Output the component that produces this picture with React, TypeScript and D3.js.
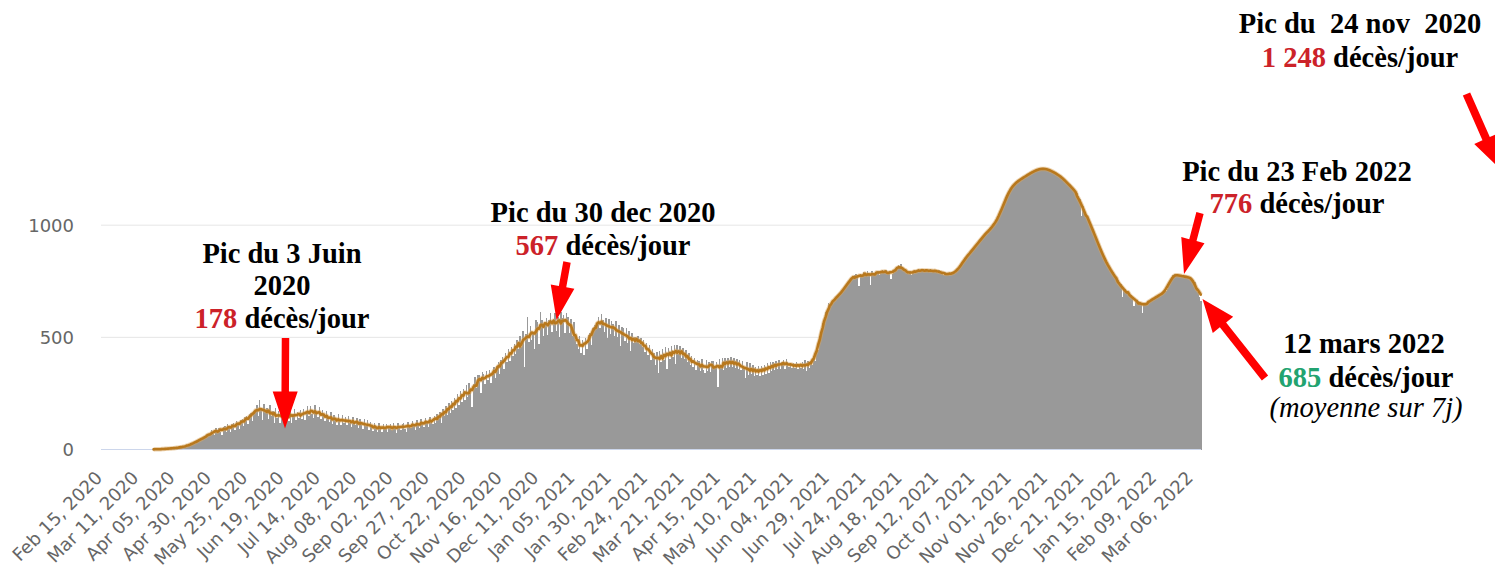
import React from 'react';
import * as d3 from 'd3';

const W = 1495;
const H = 571;

// Daily deaths (bars), month by month. Data begins 22 Mar 2020.
const mar2020 = [0, 1, 1, 0, 2, 1, 2, 3, 2, 4];
const apr2020 = [3, 5, 4, 6, 5, 7, 8, 7, 10, 9, 12, 14, 13, 18, 17, 22, 26, 24, 30, 34, 38, 40, 44, 46, 50, 54, 58, 60, 66, 70];
const may2020 = [86, 70, 64, 96, 82, 98, 80, 66, 100, 104, 78, 112, 100, 76, 112, 118, 88, 126, 118, 92, 132, 136, 104, 144, 150, 114, 158, 164, 128, 170, 178];
const jun2020 = [200, 150, 220, 180, 130, 205, 170, 185, 135, 200, 150, 170, 120, 185, 140, 170, 118, 160, 178, 112, 155, 168, 128, 172, 120, 158, 182, 130, 168, 140];
const jul2020 = [175, 135, 182, 130, 168, 192, 150, 196, 160, 140, 200, 164, 145, 188, 138, 178, 150, 125, 172, 140, 122, 165, 115, 155, 132, 110, 160, 124, 108, 152, 118];
const aug2020 = [146, 108, 150, 118, 102, 144, 120, 110, 142, 98, 138, 110, 90, 134, 104, 130, 86, 124, 102, 82, 120, 96, 80, 118, 94, 78, 114, 92, 112, 76, 106];
const sep2020 = [112, 86, 116, 94, 72, 118, 98, 88, 114, 120, 90, 80, 122, 104, 96, 126, 108, 88, 130, 112, 96, 136, 116, 100, 140, 122, 102, 146, 128, 112];
const oct2020 = [150, 116, 160, 134, 168, 120, 182, 150, 192, 154, 206, 164, 216, 178, 228, 186, 246, 198, 260, 212, 270, 222, 286, 234, 298, 250, 190, 290, 322, 274, 334];
const nov2020 = [334, 250, 344, 338, 290, 348, 310, 356, 296, 346, 366, 318, 372, 390, 336, 400, 414, 360, 428, 390, 446, 394, 456, 416, 472, 424, 488, 446, 506, 456];
const dec2020 = [528, 370, 516, 590, 480, 550, 490, 514, 450, 578, 570, 472, 612, 578, 506, 566, 586, 512, 576, 608, 524, 580, 610, 530, 590, 500, 612, 586, 600, 520, 610];
const jan2021 = [590, 520, 580, 508, 570, 490, 470, 446, 504, 430, 490, 420, 496, 450, 510, 520, 468, 540, 556, 536, 566, 590, 540, 606, 576, 524, 588, 498, 584, 516, 574];
const feb2021 = [560, 506, 574, 500, 556, 460, 548, 540, 484, 540, 476, 528, 440, 520, 474, 502, 482, 504, 472, 496, 456, 488, 436, 476, 420, 464, 400, 446];
const mar2021 = [430, 376, 434, 340, 438, 392, 450, 400, 458, 360, 454, 402, 462, 412, 466, 380, 468, 424, 462, 410, 454, 402, 442, 390, 430, 378, 418, 366, 406, 354, 398];
const apr2021 = [396, 348, 402, 356, 340, 398, 352, 392, 344, 394, 396, 366, 388, 280, 404, 364, 408, 354, 406, 362, 410, 368, 414, 370, 408, 362, 402, 358, 398, 356];
const may2021 = [394, 366, 320, 388, 332, 384, 338, 376, 326, 368, 330, 374, 326, 372, 332, 378, 336, 384, 342, 388, 350, 392, 354, 396, 358, 400, 360, 388, 398, 358, 402];
const jun2021 = [392, 366, 386, 362, 384, 364, 390, 360, 382, 364, 388, 358, 400, 352, 394, 364, 396, 376, 416, 396, 448, 444, 506, 504, 564, 558, 614, 602, 652, 636];
const jul2021 = [656, 662, 668, 674, 680, 688, 694, 702, 710, 718, 728, 738, 748, 756, 764, 772, 778, 784, 778, 730, 782, 776, 792, 784, 778, 794, 786, 735, 796, 788, 782];
const aug2021 = [788, 796, 780, 792, 800, 786, 794, 802, 788, 796, 760, 784, 798, 804, 810, 822, 816, 826, 808, 800, 792, 786, 782, 796, 780, 790, 800, 788, 796, 804, 792];
const sep2021 = [798, 806, 794, 802, 796, 790, 804, 798, 792, 800, 796, 788, 800, 794, 786, 780, 790, 776, 784, 778, 782, 788, 790, 786, 792, 800, 810, 822, 834, 844];
const oct2021 = [850, 858, 866, 874, 882, 890, 898, 906, 914, 922, 930, 938, 946, 954, 962, 970, 976, 981, 986, 991, 1003, 1015, 1027, 1039, 1050, 1068, 1085, 1103, 1120, 1135, 1150];
const nov2021 = [1160, 1170, 1178, 1184, 1190, 1195, 1200, 1204, 1208, 1212, 1216, 1220, 1224, 1228, 1232, 1236, 1240, 1243, 1246, 1248, 1250, 1252, 1252, 1253, 1252, 1250, 1248, 1246, 1244, 1240];
const dec2021 = [1236, 1232, 1228, 1224, 1220, 1216, 1210, 1204, 1198, 1190, 1182, 1176, 1170, 1164, 1158, 1150, 1142, 1130, 1116, 1040, 1084, 1068, 1052, 1036, 1020, 1006, 990, 974, 958, 942, 926];
const jan2022 = [910, 894, 876, 860, 848, 836, 824, 812, 800, 790, 780, 770, 762, 754, 746, 738, 680, 722, 714, 706, 700, 694, 688, 682, 640, 670, 666, 662, 658, 654, 610];
const feb2022 = [648, 650, 654, 658, 662, 666, 670, 674, 678, 682, 686, 690, 694, 698, 702, 706, 716, 736, 760, 770, 778, 782, 780, 778, 776, 774, 772, 770];
const mar2022 = [772, 770, 770, 768, 766, 762, 756, 746, 722, 700, 680, 660];

const tickLabels = [
  'Feb 15, 2020', 'Mar 11, 2020', 'Apr 05, 2020', 'Apr 30, 2020', 'May 25, 2020', 'Jun 19, 2020',
  'Jul 14, 2020', 'Aug 08, 2020', 'Sep 02, 2020', 'Sep 27, 2020', 'Oct 22, 2020', 'Nov 16, 2020',
  'Dec 11, 2020', 'Jan 05, 2021', 'Jan 30, 2021', 'Feb 24, 2021', 'Mar 21, 2021', 'Apr 15, 2021',
  'May 10, 2021', 'Jun 04, 2021', 'Jun 29, 2021', 'Jul 24, 2021', 'Aug 18, 2021', 'Sep 12, 2021',
  'Oct 07, 2021', 'Nov 01, 2021', 'Nov 26, 2021', 'Dec 21, 2021', 'Jan 15, 2022', 'Feb 09, 2022',
  'Mar 06, 2022',
];
const yTicks = [0, 500, 1000];

const DATA_START = new Date(Date.UTC(2020, 2, 22));
const AXIS_START = new Date(Date.UTC(2020, 1, 15));
const AXIS_END = new Date(Date.UTC(2022, 2, 13));

function arrowPoints(x1: number, y1: number, x2: number, y2: number, sw: number, hw: number, hl: number) {
  const dx = x2 - x1, dy = y2 - y1;
  const L = Math.hypot(dx, dy);
  const ux = dx / L, uy = dy / L;
  const nx = -uy, ny = ux;
  const bx = x2 - ux * hl, by = y2 - uy * hl;
  const pts = [
    [x1 + nx * sw / 2, y1 + ny * sw / 2],
    [bx + nx * sw / 2, by + ny * sw / 2],
    [bx + nx * hw / 2, by + ny * hw / 2],
    [x2, y2],
    [bx - nx * hw / 2, by - ny * hw / 2],
    [bx - nx * sw / 2, by - ny * sw / 2],
    [x1 - nx * sw / 2, y1 - ny * sw / 2],
  ];
  return pts.map((p) => p.join(',')).join(' ');
}

const RED = '#cc2229';
const GREEN = '#22a370';
const SERIF = "'Liberation Serif', 'Times New Roman', serif";
const SANS = "'DejaVu Sans', Verdana, sans-serif";

export default function App() {
  const daily = [
    mar2020, apr2020, may2020, jun2020, jul2020, aug2020, sep2020, oct2020, nov2020, dec2020,
    jan2021, feb2021, mar2021, apr2021, may2021, jun2021, jul2021, aug2021, sep2021, oct2021, nov2021, dec2021,
    jan2022, feb2022, mar2022,
  ].flat();
  const dates = daily.map((_, i) => d3.utcDay.offset(DATA_START, i));
  const avg = daily.map((_, i) =>
    d3.mean(daily.slice(Math.max(0, i - 3), Math.min(daily.length, i + 4))) as number
  );

  const x = d3.scaleUtc().domain([AXIS_START, AXIS_END]).range([100.5, 1201.5]);
  const step = x(d3.utcDay.offset(AXIS_START, 1)) - x(AXIS_START);
  const y = d3.scaleLinear().domain([0, 1000]).range([449.5, 225.2]);
  const parse = d3.utcParse('%b %d, %Y');

  const line = d3
    .line<number>()
    .x((_, i) => x(dates[i]) + step / 2)
    .y((v) => y(v));

  const plotL = 101;
  const plotR = 1201;

  const bold = { fontFamily: SERIF, fontWeight: 700, fontSize: 28.5, fill: '#000' } as const;

  return (
    <svg width={W} height={H} style={{ position: 'absolute', left: 0, top: 0, background: '#fff' }}>
      {/* grid */}
      {yTicks.filter((t) => t > 0).map((t) => (
        <line key={t} x1={plotL} x2={plotR} y1={y(t)} y2={y(t)} stroke="#e6e6e6" strokeWidth={1} />
      ))}
      {/* bars */}
      <g fill="#999999" shapeRendering="crispEdges">
        {daily.map((v, i) => {
          const x0 = Math.round(x(dates[i]));
          const x1 = Math.round(x(d3.utcDay.offset(dates[i], 1)));
          return <rect key={i} x={x0} width={Math.max(1, x1 - x0)} y={y(v)} height={y(0) - y(v)} />;
        })}
      </g>
      {/* baseline */}
      <line x1={plotL} x2={plotR} y1={y(0)} y2={y(0)} stroke="#ccd6eb" strokeWidth={1.2} />
      {/* 7-day average */}
      <path d={line(avg) || ''} fill="none" stroke="#d9a55e" strokeOpacity={0.5} strokeWidth={4.5} strokeLinejoin="round" />
      <path d={line(avg) || ''} fill="none" stroke="#b8781d" strokeWidth={2.6} strokeLinejoin="round" strokeLinecap="round" />

      {/* y axis labels */}
      {yTicks.map((t) => (
        <text key={t} x={74} y={y(t)} dy="0.35em" textAnchor="end" fontFamily={SANS} fontSize={18} fill="#666">
          {t}
        </text>
      ))}
      {/* x axis labels */}
      {tickLabels.map((lab) => {
        const d = parse(lab) as Date;
        const cx = x(d) + step / 2;
        return (
          <text
            key={lab}
            transform={`translate(${cx + 2},${479}) rotate(-45)`}
            textAnchor="end"
            fontFamily={SANS}
            fontSize={18}
            fill="#666"
          >
            {lab}
          </text>
        );
      })}

      {/* arrows */}
      <g fill="#ff0000">
        <polygon points={arrowPoints(285.5, 338, 285, 428.5, 7.5, 25, 37)} />
        <polygon points={arrowPoints(567, 262, 556.5, 320, 7.5, 24, 34)} />
        <polygon points={arrowPoints(1200, 213, 1184, 274, 7.5, 24, 35)} />
        <polygon points={arrowPoints(1265, 378, 1202.5, 299, 8, 26, 33)} />
        <polygon points={arrowPoints(1466.5, 94, 1499, 168, 8, 26, 32)} />
      </g>

      {/* annotations */}
      <g textAnchor="middle" style={bold}>
        <text x={282} y={263}>Pic du 3 Juin</text>
        <text x={282} y={295}>2020</text>
        <text x={282} y={328}>
          <tspan fill={RED}>178</tspan> décès/jour
        </text>

        <text x={603} y={222}>Pic du 30 dec 2020</text>
        <text x={603} y={255}>
          <tspan fill={RED}>567</tspan> décès/jour
        </text>

        <text x={1360} y={33} style={{ whiteSpace: 'pre' }}>Pic du  24 nov  2020</text>
        <text x={1360} y={67}>
          <tspan fill={RED}>1 248</tspan> décès/jour
        </text>

        <text x={1297} y={181}>Pic du 23 Feb 2022</text>
        <text x={1297} y={213}>
          <tspan fill={RED}>776</tspan> décès/jour
        </text>

        <text x={1364} y={353}>12 mars 2022</text>
        <text x={1366} y={387}>
          <tspan fill={GREEN}>685</tspan> décès/jour
        </text>
        <text x={1366} y={417} fontWeight={400} fontStyle="italic">(moyenne sur 7j)</text>
      </g>
    </svg>
  );
}
